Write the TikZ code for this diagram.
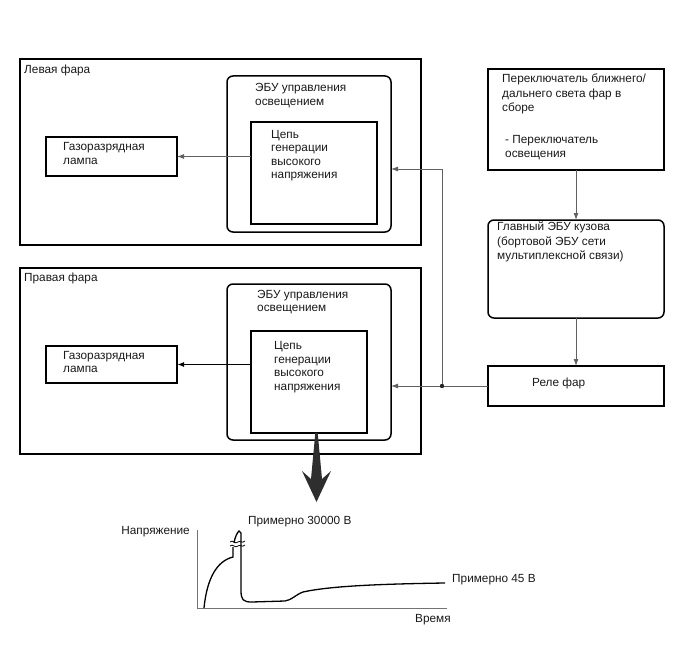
\documentclass[tikz,border=0pt]{standalone}
\usepackage{fontspec}
\setmainfont{Liberation Sans}
\usetikzlibrary{arrows.meta,calc}
\newcommand{\fs}{\fontsize{11.8}{13.5}\selectfont}
\newcommand{\fsw}{\fontsize{11.8}{14.5}\selectfont}
\tikzset{
  box/.style={draw=black, line width=1.2pt, inner sep=0pt, outer sep=0pt},
  rbox/.style={box, line width=1.5pt, rounded corners=6pt},
  lbl/.style={font=\fs, align=left, inner sep=0pt, anchor=north west, text=black!90, execute at begin node=\strut},
  lblw/.style={lbl, font=\fsw},
  conn/.style={draw=black!62, line width=0.9pt},
  arr/.style={conn, -{Latex[length=7pt,width=5pt]}},
  curve/.style={line width=1.3pt, black},
  axis/.style={draw=black!55, line width=1pt}
}
\begin{document}
\begin{tikzpicture}[x=1pt,y=-1pt]
\useasboundingbox (0,0) rectangle (688,658);
% left headlamp
\node[box, minimum width=401pt, minimum height=186pt] (lhl) at (220.5,152) {};
\node[rbox, minimum width=164pt, minimum height=156pt] (lecu) at (309,154) {};
\node[box, minimum width=126pt, minimum height=102pt] (lhv) at (314,173) {};
\node[box, minimum width=131pt, minimum height=39pt] (llamp) at (111.5,156.5) {};
\node[lbl] (lhlt) at (24,63.5) {Левая фара};
\node[lbl] (lecut) at (255,83.5) {ЭБУ управления\\освещением};
\node[lbl] (lhvt) at (271,130) {Цепь\\генерации\\высокого\\напряжения};
\node[lbl] (llampt) at (63,142.5) {Газоразрядная\\лампа};
% right headlamp
\node[box, minimum width=401pt, minimum height=186pt] (rhl) at (220.5,361) {};
\node[rbox, minimum width=164pt, minimum height=156pt] (recu) at (309,362) {};
\node[box, minimum width=116pt, minimum height=102pt] (rhv) at (309,382) {};
\node[box, minimum width=131pt, minimum height=37pt] (rlamp) at (111.5,364.5) {};
\node[lbl] (rhlt) at (24,271.5) {Правая фара};
\node[lbl] (recut) at (257,290) {ЭБУ управления\\освещением};
\node[lbl] (rhvt) at (274,341.5) {Цепь\\генерации\\высокого\\напряжения};
\node[lbl] (rlampt) at (63,351) {Газоразрядная\\лампа};
% right column
\node[box, minimum width=176pt, minimum height=101pt] (sw) at (576,119.5) {};
\node[rbox, minimum width=176pt, minimum height=98pt] (bcm) at (576,269) {};
\node[box, minimum width=176pt, minimum height=40pt] (relay) at (576,386) {};
\node[lblw] (swt) at (502,74) {Переключатель ближнего/\\дальнего света фар в\\сборе};
\node[lblw] (swt2) at (505,135) {- Переключатель\\освещения};
\node[lblw] (bcmt) at (497,222) {Главный ЭБУ кузова\\(бортовой ЭБУ сети\\мультиплексной связи)};
\node[lbl] (relayt) at (532,376.5) {Реле фар};
% connectors
\draw[arr] (lhv.west |- llamp.east) -- (llamp.east);
\draw[arr, line width=1.4pt, draw=black] (rhv.west |- rlamp.east) -- (rlamp.east);
\draw[arr] (sw.south) -- (bcm.north);
\draw[arr] (bcm.south) -- (relay.north);
\coordinate (j) at (442,386);
\coordinate (tl) at (442,169);
\draw[conn] (relay.west) -- (j);
\draw[arr] (j) -- (j -| recu.east);
\draw[arr] (j) -- (tl) -- (tl -| lecu.east);
\fill[black!85] (j) circle (2.2pt);
% big arrow
\coordinate (ba) at (316.5,433);
\fill[black!82] ($(ba)+(-1.2,0)$) -- ($(ba)+(1.2,0)$) -- ($(ba)+(5.5,46)$) -- ($(ba)+(14.5,38)$) -- ($(ba)+(0,69)$) -- ($(ba)+(-14.5,38)$) -- ($(ba)+(-5.5,46)$) -- cycle;
% graph
\coordinate (o) at (197,608);
\coordinate (ytop) at (197,530);
\coordinate (xend) at (447,608);
\draw[axis] (ytop) -- (o) -- (xend);
\draw[curve] (204,608) .. controls (207,578) and (217,561) .. (233,557) -- (233,547);
\draw[curve] (234,543) .. controls (235,537) and (237,533) .. (239,531) -- (241,533) -- (241,590) .. controls (241,600) and (243,602) .. (252,602) -- (285,601) .. controls (292,600) and (295,595) .. (303,592) .. controls (330,586) and (380,584) .. (445,583);
\draw[line width=0.8pt] (230,542) .. controls (233,539) and (235,545) .. (238,542) .. controls (240,540) and (242,544) .. (245,541);
\draw[line width=0.8pt] (230,546) .. controls (233,543) and (235,549) .. (238,546) .. controls (240,544) and (242,548) .. (245,545);
\node[lbl, anchor=north east] (vlbl) at (190,524.5) {Напряжение};
\node[lbl] (pk) at (248,515) {Примерно 30000 В};
\node[lbl] (ss) at (452,572.5) {Примерно 45 В};
\node[lbl] (tlbl) at (415,612.5) {Время};
\end{tikzpicture}
\end{document}
